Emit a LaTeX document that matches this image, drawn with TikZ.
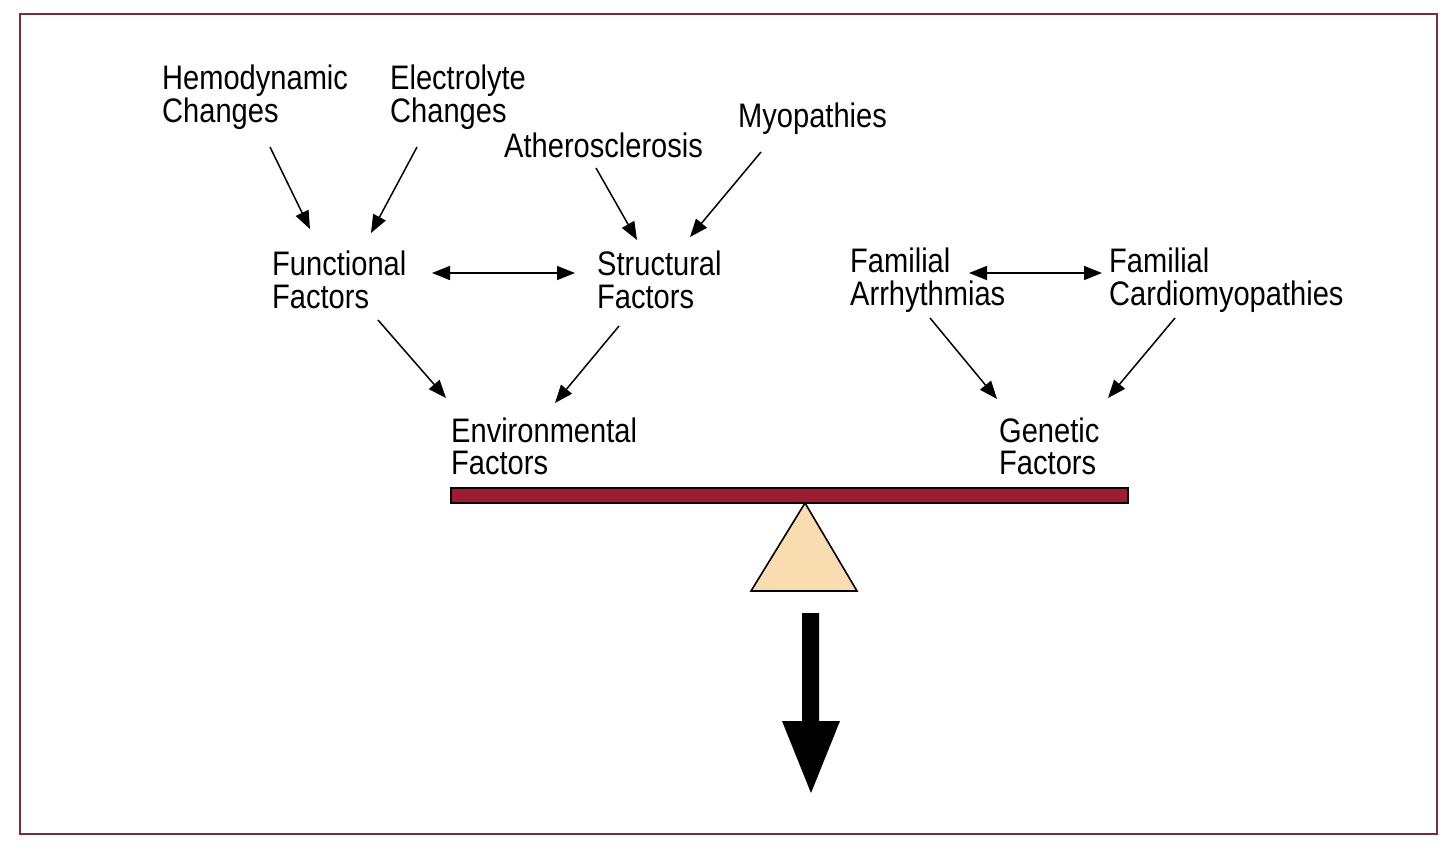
\documentclass[tikz,border=0pt]{standalone}
\usepackage{fontspec}
\setmainfont{Liberation Sans}[FakeStretch=0.855]
\usetikzlibrary{calc,arrows.meta}
\definecolor{frame}{HTML}{7B2C3D}
\definecolor{beam}{HTML}{9E1C32}
\definecolor{fulcrum}{HTML}{F9DCAF}
\tikzset{
  lbl/.style={anchor=base west, inner sep=0pt, align=left, font=\fontsize{34}{33}\selectfont},
  lbltight/.style={lbl, font=\fontsize{34}{32}\selectfont},
  arr/.style={-{Triangle[length=18pt,width=14pt]}, line width=1.5pt},
  darr/.style={{Triangle[length=18pt,width=14pt]}-{Triangle[length=18pt,width=14pt]}, line width=1.5pt},
}
\begin{document}
\begin{tikzpicture}[x=1pt,y=-1pt]
\useasboundingbox (0,0) rectangle (1454,862);
\fill[white] (0,0) rectangle (1454,862);
\draw[frame, line width=2pt] (20,14) rectangle (1437,834);

% nodes are placed by the baseline of their last line
\node[lbl] (hemo) at (162,122) {Hemodynamic\\Changes};
\node[lbl] (elec) at (390,122) {Electrolyte\\Changes};
\node[lbl] (ather) at (504,157) {Atherosclerosis};
\node[lbl] (myo) at (738,127) {Myopathies};
\node[lbl] (func) at (272,308) {Functional\\Factors};
\node[lbl] (struct) at (597,308) {Structural\\Factors};
\node[lbl] (famarr) at (850,305) {Familial\\Arrhythmias};
\node[lbl] (famcard) at (1109,305) {Familial\\Cardiomyopathies};
\node[lbltight] (env) at (451,474) {Environmental\\Factors};
\node[lbltight] (gen) at (999,474) {Genetic\\Factors};

\draw[arr] ($(hemo.base west)+(108,25)$) -- ($(func.base west)+(38,-79)$);
\draw[arr] ($(elec.base west)+(27,25)$) -- ($(func.base west)+(99,-75)$);
\draw[arr] ($(ather.base west)+(92,11)$) -- ($(struct.base west)+(40,-68)$);
\draw[arr] ($(myo.base west)+(23,25)$) -- ($(struct.base west)+(93,-71)$);
\draw[darr] ($(func.base west)+(160,-35)$) -- ($(struct.base west)+(-22,-35)$);
\draw[darr] ($(famarr.base west)+(119,-32)$) -- ($(famcard.base west)+(-7,-32)$);
\draw[arr] ($(func.base west)+(106,12)$) -- ($(env.base west)+(-5,-76)$);
\draw[arr] ($(struct.base west)+(22,18)$) -- ($(env.base west)+(104,-71)$);
\draw[arr] ($(famarr.base west)+(80,13)$) -- ($(gen.base west)+(-2,-75)$);
\draw[arr] ($(famcard.base west)+(66,13)$) -- ($(gen.base west)+(109,-76)$);

% beam and fulcrum
\filldraw[fill=beam, draw=black, line width=2pt] (451,488) rectangle (1128,503);
\filldraw[fill=fulcrum, draw=black, line width=1.6pt, line join=miter] (805,503) -- (857,591) -- (751,591) -- cycle;
% big downward arrow
\fill[black] (802,613) -- (819,613) -- (819,721) -- (840,721) -- (811,793) -- (782,721) -- (802,721) -- cycle;
\end{tikzpicture}
\end{document}
